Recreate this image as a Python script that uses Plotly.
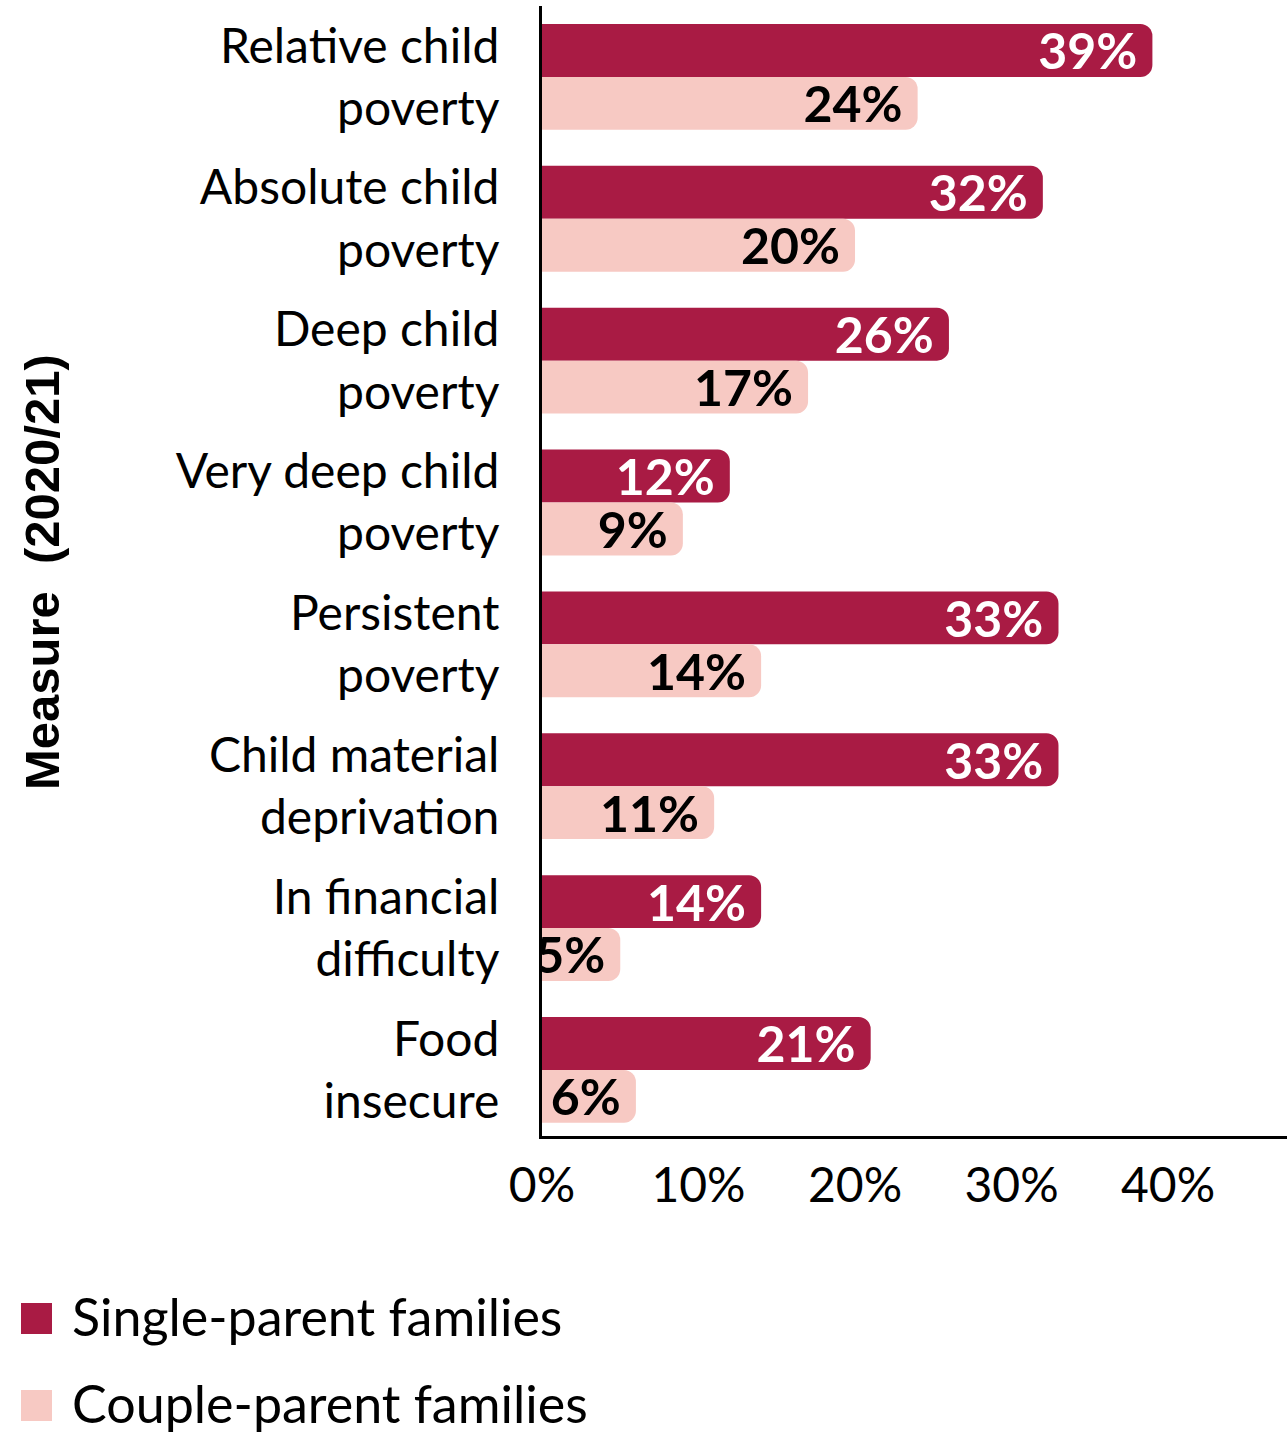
import plotly.graph_objects as go

categories = [
    "Relative child<br>poverty",
    "Absolute child<br>poverty",
    "Deep child<br>poverty",
    "Very deep child<br>poverty",
    "Persistent<br>poverty",
    "Child material<br>deprivation",
    "In financial<br>difficulty",
    "Food<br>insecure",
]
single_parent = [39, 32, 26, 12, 33, 33, 14, 21]
couple_parent = [24, 20, 17, 9, 14, 11, 5, 6]
x_tick_values = [0, 10, 20, 30, 40]
x_tick_labels = ["0%", "10%", "20%", "30%", "40%"]
series_names = ["Single-parent families", "Couple-parent families"]
axis_title = "Measure  (2020/21)"

C_SINGLE = "#a91b44"
C_COUPLE = "#f7c9c3"
FONT = "Lato"

W, H = 1287, 1436
L, R, T, B = 542, 0, 6, 300
PW, PH = W - L - R, H - T - B


def px_x(x):
    return (x - L) / PW


def px_y(y):
    return (H - B - y) / PH


fig = go.Figure()
series = [
    (series_names[0], single_parent, C_SINGLE, "white", "single"),
    (series_names[1], couple_parent, C_COUPLE, "black", "couple"),
]
# visible rounded bars
for name, vals, col, tcol, grp in series:
    fig.add_trace(go.Bar(
        y=categories, x=vals, orientation="h", name=name, offsetgroup=grp,
        marker=dict(color=col, line=dict(width=0), cornerradius=12),
        showlegend=False, hoverinfo="x+y",
    ))
# value labels (transparent square-ended bars carry the text, so it is not shrunk)
for name, vals, col, tcol, grp in series:
    fig.add_trace(go.Bar(
        y=categories, x=vals, orientation="h", name=name + " labels", offsetgroup=grp,
        marker=dict(color="rgba(0,0,0,0)", line=dict(width=0), cornerradius=0),
        text=[f"{v}%\u00a0" for v in vals],
        textposition="inside", insidetextanchor="end", textangle=0,
        constraintext="none",
        textfont=dict(family=FONT, size=50, color=tcol, weight="bold"),
        showlegend=False, hoverinfo="skip",
    ))

# manual legend (big square swatches)
legend_rows = [(series_names[0], C_SINGLE, 1303), (series_names[1], C_COUPLE, 1390)]
for name, col, ytop in legend_rows:
    fig.add_shape(type="rect", xref="paper", yref="paper",
                  x0=px_x(21), x1=px_x(52), y0=px_y(ytop), y1=px_y(ytop + 31),
                  fillcolor=col, line=dict(width=0))
    fig.add_annotation(xref="paper", yref="paper", x=px_x(70), y=px_y(ytop + 13),
                       xanchor="left", yanchor="middle", showarrow=False,
                       text=name, font=dict(family=FONT, size=52, color="black"))

fig.add_annotation(xref="paper", yref="paper", x=px_x(42), y=px_y(572),
                   xanchor="center", yanchor="middle", showarrow=False, textangle=-90,
                   text=axis_title,
                   font=dict(family="Liberation Sans", size=49, color="black", weight="bold"))

fig.update_layout(
    width=W, height=H,
    margin=dict(l=L, r=R, t=T, b=B, autoexpand=False),
    paper_bgcolor="white", plot_bgcolor="white",
    barmode="group", bargap=0.254, bargroupgap=0.0,
    font=dict(family=FONT, size=48, color="black"),
    showlegend=False,
    xaxis=dict(
        range=[0, 47.6], tickvals=x_tick_values, ticktext=x_tick_labels,
        showgrid=False, zeroline=False, showline=True, linecolor="black", linewidth=3,
        ticks="", ticklabelstandoff=5, tickfont=dict(family=FONT, size=48, color="black"),
        automargin=False, fixedrange=True,
    ),
    yaxis=dict(
        range=[7.466, -0.5], showgrid=False, zeroline=False,
        showline=True, linecolor="black", linewidth=3,
        ticks="", ticklabelstandoff=30, tickfont=dict(family=FONT, size=48, color="black"),
        automargin=False, fixedrange=True,
    ),
)

fig.write_html("out.html")
